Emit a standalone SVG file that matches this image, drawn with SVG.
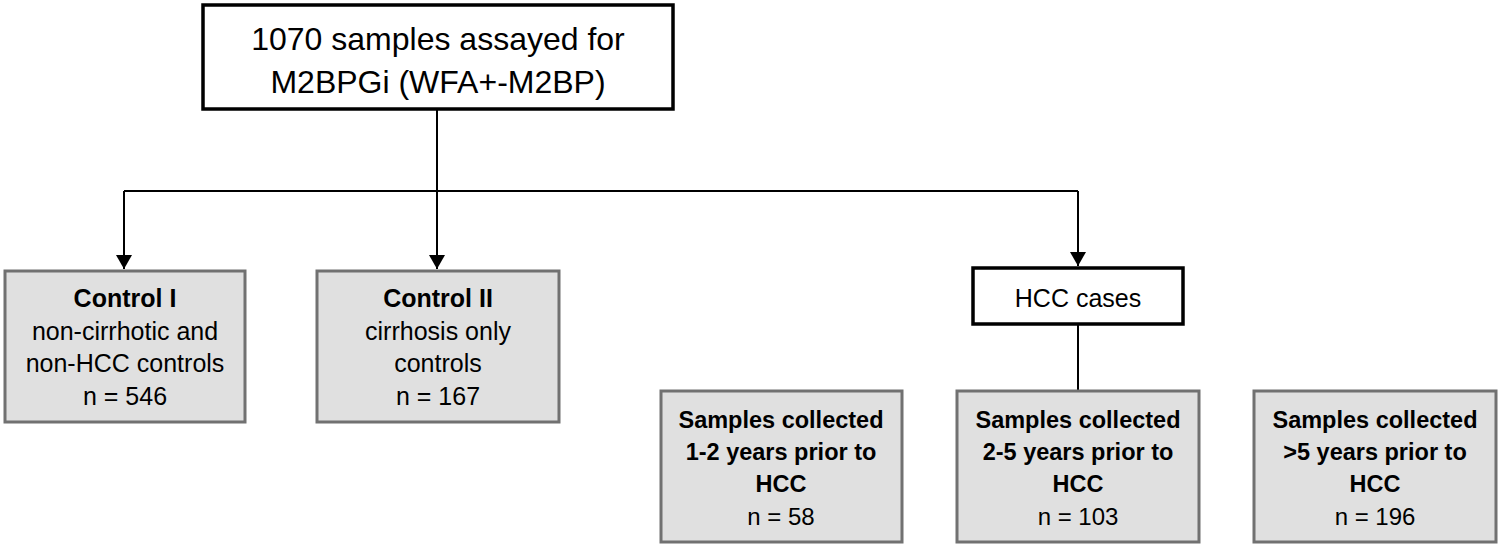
<svg xmlns="http://www.w3.org/2000/svg" width="1500" height="546" viewBox="0 0 1500 546">
<style>
.t{font-family:"Liberation Sans",Arial,sans-serif;fill:#000;text-anchor:middle}
.b{font-weight:bold}
.white{fill:#fff;stroke:#000;stroke-width:3.5}
.gray{fill:#e0e0e0;stroke:#717171;stroke-width:3}
.conn{fill:none;stroke:#000;stroke-width:2}
</style>
<defs>
<marker id="arr" viewBox="0 0 14 16" refX="14" refY="8" markerWidth="14" markerHeight="16" markerUnits="userSpaceOnUse" orient="auto">
<path d="M0,0 L14,8 L0,16 Z" fill="#000"/>
</marker>
</defs>
<rect width="1500" height="546" fill="#fff"/>
<g id="connectors">
<path class="conn" d="M437,109 V191"/>
<path class="conn" d="M124,191 H1078"/>
<path class="conn" d="M124,191 V269" marker-end="url(#arr)"/>
<path class="conn" d="M437,191 V269" marker-end="url(#arr)"/>
<path class="conn" d="M1078,191 V266" marker-end="url(#arr)"/>
<path class="conn" d="M1078,325 V391"/>
</g>
<g id="root">
<rect class="white" x="203" y="5" width="470" height="104"/>
<text class="t" x="438" y="50" font-size="32">1070 samples assayed for</text>
<text class="t" x="438" y="93" font-size="32">M2BPGi (WFA+-M2BP)</text>
</g>
<g id="control1">
<rect class="gray" x="5" y="271" width="240" height="151"/>
<text class="t b" x="125" y="307" font-size="25">Control I</text>
<text class="t" x="125" y="340" font-size="25">non-cirrhotic and</text>
<text class="t" x="125" y="372" font-size="25">non-HCC controls</text>
<text class="t" x="125" y="405" font-size="25">n = 546</text>
</g>
<g id="control2">
<rect class="gray" x="317" y="271" width="242" height="151"/>
<text class="t b" x="438" y="307" font-size="25">Control II</text>
<text class="t" x="438" y="340" font-size="25">cirrhosis only</text>
<text class="t" x="438" y="372" font-size="25">controls</text>
<text class="t" x="438" y="405" font-size="25">n = 167</text>
</g>
<g id="hcc">
<rect class="white" x="973" y="268" width="210" height="56"/>
<text class="t" x="1078" y="307" font-size="25">HCC cases</text>
</g>
<g id="hcc12">
<rect class="gray" x="661" y="391" width="241" height="151"/>
<text class="t b" x="781" y="428" font-size="23.5">Samples collected</text>
<text class="t b" x="781" y="460" font-size="23.5">1-2 years prior to</text>
<text class="t b" x="781" y="492" font-size="23.5">HCC</text>
<text class="t" x="781" y="525" font-size="24">n = 58</text>
</g>
<g id="hcc25">
<rect class="gray" x="957" y="391" width="242" height="151"/>
<text class="t b" x="1078" y="428" font-size="23.5">Samples collected</text>
<text class="t b" x="1078" y="460" font-size="23.5">2-5 years prior to</text>
<text class="t b" x="1078" y="492" font-size="23.5">HCC</text>
<text class="t" x="1078" y="525" font-size="24">n = 103</text>
</g>
<g id="hcc5">
<rect class="gray" x="1254" y="391" width="242" height="151"/>
<text class="t b" x="1375" y="428" font-size="23.5">Samples collected</text>
<text class="t b" x="1375" y="460" font-size="23.5">&gt;5 years prior to</text>
<text class="t b" x="1375" y="492" font-size="23.5">HCC</text>
<text class="t" x="1375" y="525" font-size="24">n = 196</text>
</g>
</svg>
